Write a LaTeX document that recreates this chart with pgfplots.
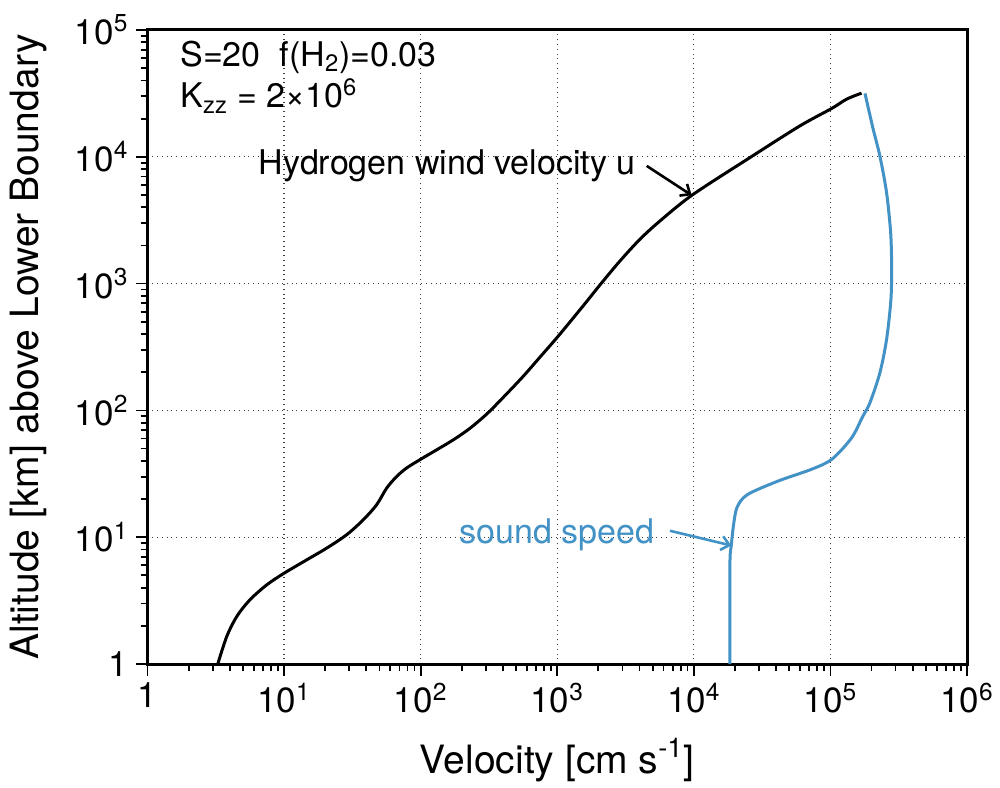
\documentclass[border=0pt]{standalone}
\usepackage{fontspec}
\setmainfont{TeX Gyre Heros}
\usepackage{pgfplots}
\pgfplotsset{compat=1.18}
\usetikzlibrary{arrows.meta}
\definecolor{sblue}{RGB}{66,146,198}
\begin{document}
\begin{tikzpicture}
\begin{axis}[name=ax, scale only axis, width=409.75pt, height=317pt,
  xmode=log, ymode=log, xmin=1, xmax=1e6, ymin=1, ymax=1e5,
  axis line style={line width=1.5pt},
  tick pos=left, tick align=outside,
  major tick length=6pt, minor tick length=3.5pt,
  every tick/.style={black, line width=0.9pt},
  xtick={1,10,100,1000,10000,100000,1000000},
  ytick={1,10,100,1000,10000,100000},
  minor xtick={2,3,4,5,6,7,8,9,20,30,40,50,60,70,80,90,200,300,400,500,600,700,800,900,2000,3000,4000,5000,6000,7000,8000,9000,20000,30000,40000,50000,60000,70000,80000,90000,200000,300000,400000,500000,600000,700000,800000,900000},
  minor ytick={2,3,4,5,6,7,8,9,20,30,40,50,60,70,80,90,200,300,400,500,600,700,800,900,2000,3000,4000,5000,6000,7000,8000,9000,20000,30000,40000,50000,60000,70000,80000,90000},
  xticklabels={1,10\textsuperscript{1},10\textsuperscript{2},10\textsuperscript{3},10\textsuperscript{4},10\textsuperscript{5},10\textsuperscript{6}},
  yticklabels={1,10\textsuperscript{1},10\textsuperscript{2},10\textsuperscript{3},10\textsuperscript{4},10\textsuperscript{5}},
  ticklabel style={font=\fontsize{17.5}{20}\selectfont},
  xmajorgrids, ymajorgrids,
  grid style={dotted, black!75, line width=0.6pt},
  label style={font=\fontsize{19.5}{23}\selectfont},
  xlabel={Velocity [cm s\textsuperscript{-1}]},
  ylabel={Altitude [km] above Lower Boundary},
  every axis y label/.append style={at={(axis description cs:-0.133,0.5)}, anchor=base},
  every axis x label/.append style={at={(axis description cs:0.5,-0.172)}, anchor=base},
  clip=false,
]
\addplot[black, line width=1.5pt, smooth] coordinates {
(3.27,1) (3.80,1.644) (4.50,2.366) (5.62,3.206) (7.46,4.207) (10.0,5.20)
(14.62,6.62) (20.5,8.20) (28.7,10.45) (38.0,13.71) (47.6,18.03) (56.4,24.4)
(66.7,30.1) (79.1,35.2) (101.6,41.6) (138.4,50.6) (177.8,59.6) (223.9,70.8)
(269.2,83.2) (321.4,98.9) (416.9,131.8) (563.6,185.8) (758.6,268.0) (1016,385.0)
(1549,668.3) (2056,977.2) (2877,1507) (4027,2234) (5649,3119) (9772,5012)
(25763,9863) (59841,17539) (102094,24044) (131522,28500) (169044,31769)
};
\addplot[sblue, line width=1.5pt, smooth] coordinates {
(179060,31623) (205589,16520) (230144,10162) (257632,5224) (276058,2523)
(280543,1374) (277332,749.9) (257632,362.2) (230144,197.7) (194536,114.6)
(171791,88.9) (142889,60.7) (102802,41.3) (73114,34.4) (41305,27.7)
(24717,21.7) (20845,17.46) (19679,13.24) (18793,8.59) (18365,5.96) (18365,1)
};
\node[anchor=base west, inner sep=0pt, font=\fontsize{17}{20}\selectfont] at (rel axis cs:0.0397,0.942) {S=20\ \ f(H\textsubscript{2})=0.03};
\node[anchor=base west, inner sep=0pt, font=\fontsize{17}{20}\selectfont] at (rel axis cs:0.0397,0.877) {K\textsubscript{zz} = 2×10\textsuperscript{6}};
\node[anchor=base east, inner sep=0pt, font=\fontsize{17}{20}\selectfont] at (axis cs:3767,7290) {Hydrogen wind velocity u};
\draw[-{Straight Barb[length=4pt,width=7pt]}, line width=1.3pt] (axis cs:4518,8474) -- (axis cs:9638,4977);
\node[anchor=base east, inner sep=0pt, text=sblue, font=\fontsize{17}{20}\selectfont] at (axis cs:5190,8.87) {sound speed};
\draw[sblue, -{Straight Barb[length=4pt,width=7pt]}, line width=1.3pt] (axis cs:6683,11.24) -- (axis cs:18820,8.60);
\end{axis}
\pgfresetboundingbox
\path (ax.south west) ++(-73.75pt,-61.5pt) coordinate (bl);
\path (ax.north east) ++(16.5pt,15pt) coordinate (tr);
\path (bl) rectangle (tr);
\end{tikzpicture}
\end{document}
